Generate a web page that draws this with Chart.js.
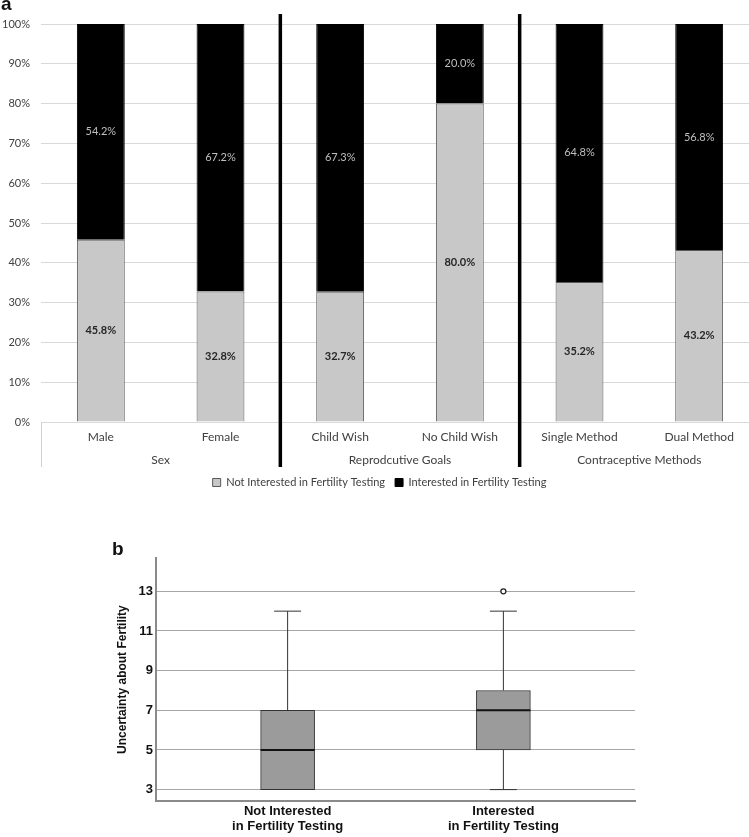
<!DOCTYPE html>
<html lang="en">
<head>
<meta charset="UTF-8">
<title>Interest in fertility testing</title>
<style>
    body {
        margin: 0;
        background: #fff;
        overflow: hidden;
        width: 749px;
        height: 837px;
        position: relative;
    }
    .panel-letter {
        position: absolute;
        font-family: "Liberation Sans", Arial, sans-serif;
        font-weight: bold;
        font-size: 19px;
        line-height: 1;
        color: #111;
    }
    #boxA { position: absolute; left: 0; top: 0; width: 759px; height: 498px; }
    #boxB { position: absolute; left: 0; top: 535px; width: 749px; height: 302px; }
</style>
</head>
<body>

<div id="boxA"><canvas id="chartA" width="759" height="498"></canvas></div>
<div id="boxB"><canvas id="chartB" width="749" height="302"></canvas></div>
<div class="panel-letter" style="left:1px; top:-6px">a</div>
<div class="panel-letter" style="left:112px; top:539px">b</div>

<script src="https://cdn.jsdelivr.net/npm/chart.js"></script>
<script>
    // panel a: share interested / not interested per subgroup (%)
    const categories = ['Male', 'Female', 'Child Wish', 'No Child Wish', 'Single Method', 'Dual Method'];
    const groupLabels = ['Sex', 'Reprodcutive Goals', 'Contraceptive Methods'];
    const groupSizes = [2, 2, 2];
    const notInterested = [45.8, 32.8, 32.7, 80.0, 35.2, 43.2];
    const interested = [54.2, 67.2, 67.3, 20.0, 64.8, 56.8];

    // panel b: box plot of uncertainty about fertility
    const boxGroups = [['Not Interested', 'in Fertility Testing'], ['Interested', 'in Fertility Testing']];
    const boxMin = [3, 3];
    const boxQ1 = [3, 5];
    const boxMedian = [5, 7];
    const boxQ3 = [7, 8];
    const boxMax = [12, 12];
    const outliers = [[], [13]];
    const uncertaintyTicks = [3, 5, 7, 9, 11, 13];

    const excelFont = 'Lato, "Open Sans", sans-serif';
    const arialFont = '"Liberation Sans", Arial, sans-serif';

    // writes the percentage in the middle of every stacked segment
    const segmentLabels = {
        id: 'segmentLabels',
        afterDatasetsDraw(chart) {
            const ctx = chart.ctx;
            ctx.save();
            ctx.textAlign = 'center';
            ctx.textBaseline = 'middle';
            chart.data.datasets.forEach((ds, di) => {
                chart.getDatasetMeta(di).data.forEach((bar, i) => {
                    const p = bar.getCenterPoint();
                    ctx.font = (di === 0 ? 'bold ' : '') + '11px ' + excelFont;
                    ctx.fillStyle = di === 0 ? '#262626' : '#bfbfbf';
                    ctx.fillText(ds.data[i].toFixed(1) + '%', p.x, p.y);
                });
            });
            ctx.restore();
        }
    };

    // thick separators between the category groups
    const groupLines = {
        id: 'groupLines',
        afterDraw(chart) {
            const x = chart.scales.x, x2 = chart.scales.x2, area = chart.chartArea;
            const step = x.getPixelForValue(1) - x.getPixelForValue(0);
            const ctx = chart.ctx;
            ctx.save();
            const left = Math.round(x.getPixelForValue(0) - step / 2) + 0.5;
            ctx.strokeStyle = '#d0d0d0';
            ctx.lineWidth = 1;
            ctx.beginPath();
            ctx.moveTo(left, area.bottom);
            ctx.lineTo(left, x2.bottom);
            ctx.stroke();

            ctx.strokeStyle = '#000';
            ctx.lineWidth = 3.5;
            let idx = 0;
            groupSizes.slice(0, -1).forEach(n => {
                idx += n;
                const px = x.getPixelForValue(idx) - step / 2;
                ctx.beginPath();
                ctx.moveTo(px, area.top - 10);
                ctx.lineTo(px, x2.bottom);
                ctx.stroke();
            });
            ctx.restore();
        }
    };

    new Chart(document.getElementById('chartA'), {
        type: 'bar',
        data: {
            labels: categories,
            datasets: [{
                label: 'Not Interested in Fertility Testing',
                data: notInterested,
                backgroundColor: '#c8c8c8',
                borderColor: '#595959',
                borderWidth: 1
            }, {
                label: 'Interested in Fertility Testing',
                data: interested,
                backgroundColor: '#000',
                borderColor: '#000',
                borderWidth: 1
            }]
        },
        options: {
            responsive: false,
            animation: false,
            layout: { padding: { top: 24, left: 0, right: 0, bottom: 0 } },
            datasets: { bar: { categoryPercentage: 1, barPercentage: 0.4 } },
            plugins: {
                legend: {
                    position: 'bottom',
                    labels: {
                        boxWidth: 8,
                        boxHeight: 8,
                        padding: 10,
                        color: '#404040',
                        font: { family: excelFont, size: 11 }
                    }
                },
                tooltip: { enabled: false }
            },
            scales: {
                x: {
                    stacked: true,
                    grid: { display: false, drawTicks: false },
                    border: { display: false },
                    ticks: { padding: 8, color: '#404040', font: { family: excelFont, size: 12 } },
                    afterFit: s => { s.height = 24; }
                },
                x2: {
                    type: 'category',
                    labels: groupLabels,
                    position: 'bottom',
                    offset: true,
                    weight: 1,
                    grid: { display: false, drawTicks: false },
                    border: { display: false },
                    ticks: { padding: 7, color: '#404040', font: { family: excelFont, size: 12 } },
                    afterFit: s => { s.height = 21; }
                },
                y: {
                    stacked: true,
                    min: 0,
                    max: 100,
                    ticks: {
                        stepSize: 10,
                        padding: 11,
                        color: '#404040',
                        font: { family: excelFont, size: 11 },
                        callback: v => v + '%'
                    },
                    grid: { color: '#d9d9d9', drawTicks: false },
                    border: { display: false },
                    afterFit: s => { s.width = 41; }
                }
            }
        },
        plugins: [segmentLabels, groupLines]
    });

    // whiskers, caps and median for the box plot
    const whiskers = {
        id: 'whiskers',
        afterDatasetsDraw(chart) {
            const y = chart.scales.y, ctx = chart.ctx;
            const boxes = chart.getDatasetMeta(0).data;
            const seg = (x1, y1, x2, y2) => {
                ctx.beginPath();
                ctx.moveTo(x1, y1);
                ctx.lineTo(x2, y2);
                ctx.stroke();
            };
            ctx.save();
            boxes.forEach((bar, i) => {
                const cx = bar.x, half = bar.width / 2, cap = bar.width / 4;
                ctx.strokeStyle = '#333';
                ctx.lineWidth = 1;
                const yMax = y.getPixelForValue(boxMax[i]);
                seg(cx, y.getPixelForValue(boxQ3[i]), cx, yMax);
                seg(cx - cap, yMax, cx + cap, yMax);
                if (boxMin[i] < boxQ1[i]) {
                    const yMin = y.getPixelForValue(boxMin[i]);
                    seg(cx, y.getPixelForValue(boxQ1[i]), cx, yMin);
                    seg(cx - cap, yMin, cx + cap, yMin);
                }
                ctx.strokeStyle = '#111';
                ctx.lineWidth = 2;
                const yMed = y.getPixelForValue(boxMedian[i]);
                seg(cx - half, yMed, cx + half, yMed);
            });
            ctx.restore();
        }
    };

    const outlierPoints = [];
    outliers.forEach((list, i) => list.forEach(v => outlierPoints.push({ x: i + 1, y: v })));

    new Chart(document.getElementById('chartB'), {
        type: 'bar',
        data: {
            datasets: [{
                type: 'bar',
                data: boxQ1.map((q, i) => ({ x: i + 1, y: [q, boxQ3[i]] })),
                backgroundColor: '#9b9b9b',
                borderColor: '#333',
                borderWidth: 1,
                borderSkipped: false,
                barThickness: 54
            }, {
                type: 'scatter',
                data: outlierPoints,
                pointRadius: 2.5,
                pointBackgroundColor: '#fff',
                pointBorderColor: '#222',
                pointBorderWidth: 1.3
            }]
        },
        options: {
            responsive: false,
            animation: false,
            layout: { padding: { top: 23, left: 108, right: 114, bottom: 0 } },
            plugins: { legend: { display: false }, tooltip: { enabled: false } },
            scales: {
                x: {
                    type: 'linear',
                    offset: false,
                    min: 0.39,
                    max: 2.61,
                    afterBuildTicks: s => { s.ticks = boxGroups.map((g, i) => ({ value: i + 1 })); },
                    ticks: {
                        autoSkip: false,
                        maxRotation: 0,
                        padding: 3,
                        color: '#111',
                        font: { family: arialFont, size: 13, weight: 'bold', lineHeight: 1.15 },
                        callback: (v, i) => boxGroups[i]
                    },
                    grid: { display: false, drawTicks: false },
                    border: { color: '#8a8a8a', width: 2 }
                },
                y: {
                    min: 2.42,
                    max: 14.68,
                    afterBuildTicks: s => { s.ticks = uncertaintyTicks.map(v => ({ value: v })); },
                    ticks: {
                        padding: 3,
                        color: '#111',
                        font: { family: arialFont, size: 13, weight: 'bold' }
                    },
                    grid: { color: '#a6a6a6', drawTicks: false },
                    border: { color: '#8a8a8a', width: 2 },
                    title: {
                        display: true,
                        text: 'Uncertainty about Fertility',
                        color: '#111',
                        font: { family: arialFont, size: 12, weight: 'bold' },
                        padding: { top: 7, bottom: 0 }
                    },
                    afterFit: s => { s.width = 48; }
                }
            }
        },
        plugins: [whiskers]
    });
</script>

</body>
</html>
